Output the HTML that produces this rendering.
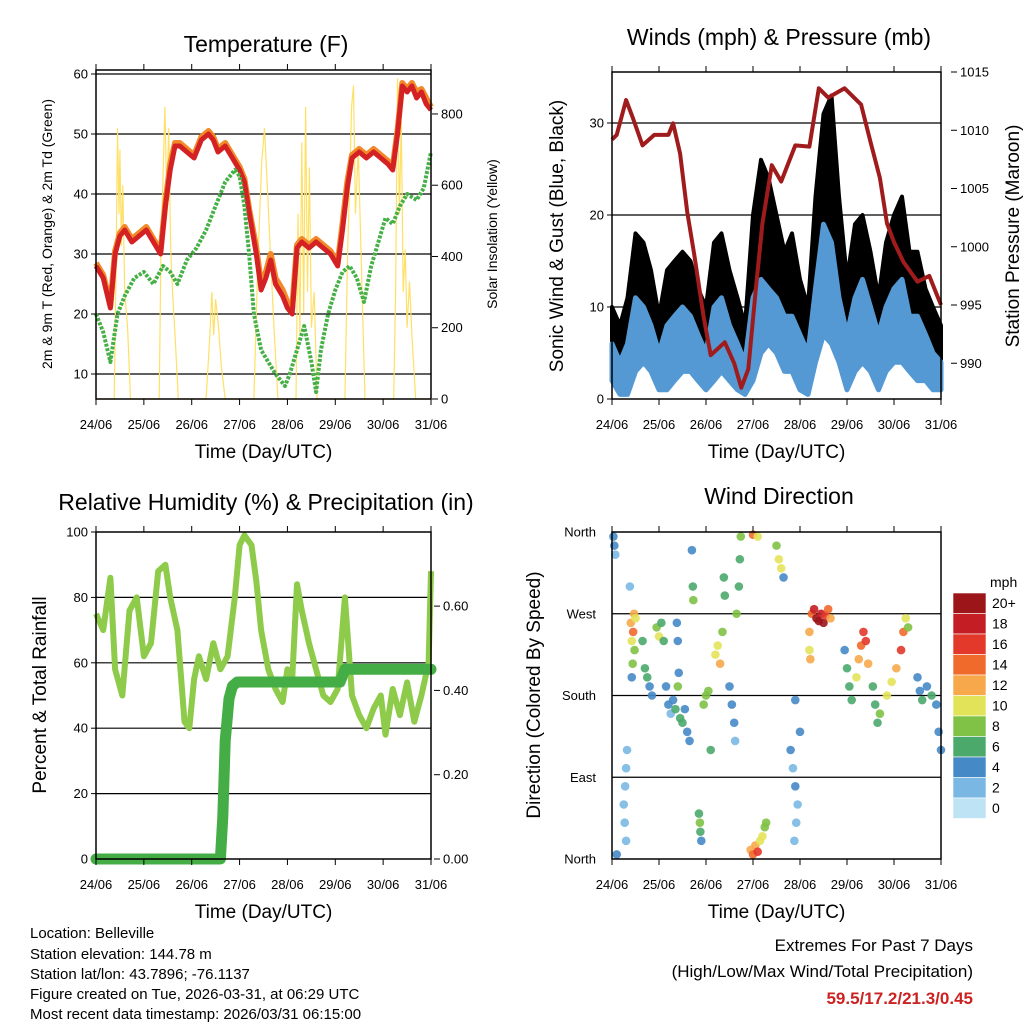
<!DOCTYPE html>
<html><head><meta charset="utf-8"><style>
body{margin:0;background:#fff;}
svg{display:block;font-family:"Liberation Sans",Arial,sans-serif;}
</style></head><body>
<svg id="chart" width="1024" height="1024" viewBox="0 0 1024 1024">
<g font-size="15" fill="#000">
<text x="30" y="938">Location: Belleville</text>
<text x="30" y="959">Station elevation: 144.78 m</text>
<text x="30" y="979">Station lat/lon: 43.7896; -76.1137</text>
<text x="30" y="999">Figure created on Tue, 2026-03-31, at 06:29 UTC</text>
<text x="30" y="1019">Most recent data timestamp: 2026/03/31 06:15:00</text>
</g>
<g text-anchor="end">
<text x="973" y="951" font-size="17">Extremes For Past 7 Days</text>
<text x="973" y="977" font-size="17">(High/Low/Max Wind/Total Precipitation)</text>
<text x="973" y="1004" font-size="17" font-weight="bold" fill="#cc2222">59.5/17.2/21.3/0.45</text>
</g>
</svg>
<script>
const dayLabels=['24/06','25/06','26/06','27/06','28/06','29/06','30/06','31/06'];
// Temperature (F)
const tTime=[0,0.15,0.3,0.4,0.5,0.6,0.75,0.9,1.05,1.2,1.35,1.45,1.55,1.65,1.75,1.9,2.05,2.2,2.35,2.45,2.55,2.7,2.85,3.0,3.1,3.2,3.35,3.45,3.55,3.65,3.75,3.9,4.0,4.1,4.2,4.3,4.45,4.6,4.75,4.9,5.05,5.15,5.25,5.35,5.5,5.65,5.8,5.95,6.1,6.2,6.3,6.4,6.5,6.6,6.7,6.8,6.9,7.0];
const t2m=[28,26,21,30,33,34,32,33,34,32,30,38,44,48,48,47,46,49,50,49,47,48,46,44,42,37,30,24,26,29,25,23,21,20,31,32,31,32,31,30,28,34,41,46,47,46,47,46,45,44,50,58,57,58,56,57,55,54];
const t9m=[28.5,26.5,21.5,30.5,33.5,34.5,32.5,33.5,34.5,32.5,30.5,38.5,45,48.5,48.5,47.5,46.5,49.5,50.5,49.5,47.5,48.5,46.5,44.5,42.5,37.5,31,25,27,30,26,24,22,21,31.5,32.5,31.5,32.5,31.5,30.5,28.5,35,42,46.5,47.5,46.5,47.5,46.5,45.5,44.5,50.5,58.5,57.5,58.5,57,57.5,56,54.5];
const tdTime=[0,0.15,0.3,0.45,0.6,0.8,1.0,1.2,1.4,1.55,1.7,1.9,2.1,2.3,2.5,2.7,2.9,3.0,3.1,3.2,3.3,3.45,3.6,3.75,3.85,3.95,4.05,4.2,4.35,4.5,4.6,4.7,4.85,5.0,5.15,5.3,5.45,5.6,5.75,5.9,6.05,6.2,6.35,6.5,6.7,6.85,7.0];
const td2m=[20,17,12,20,23,26,27,25,28,27,25,29,31,34,38,42,44,43,38,30,20,14,12,10,9,8,10,14,18,12,7,14,20,24,27,28,26,22,28,32,36,35,38,40,39,41,47];
const solTime=[0,0.38,0.42,0.45,0.48,0.5,0.53,0.56,0.6,0.66,0.72,1.32,1.36,1.4,1.44,1.48,1.52,1.56,1.6,1.66,1.72,2.3,2.38,2.42,2.46,2.5,2.55,2.62,2.7,3.3,3.38,3.46,3.52,3.58,3.64,3.72,3.8,4.18,4.22,4.26,4.3,4.34,4.38,4.42,4.46,4.5,4.56,4.62,5.2,5.26,5.3,5.34,5.38,5.42,5.48,5.56,5.62,6.22,6.26,6.3,6.34,6.38,6.42,6.46,6.5,6.55,6.6,6.68,7.0];
const solVal=[0,0,380,760,520,700,430,600,300,200,0,0,450,620,820,560,760,420,300,160,0,0,180,300,180,280,220,90,0,0,380,660,760,600,420,200,0,0,520,180,720,240,820,300,650,200,300,0,0,420,600,820,880,520,700,300,0,0,300,900,520,780,300,420,200,330,180,0,0];
// Winds & pressure
const wTime=[0,0.17,0.33,0.5,0.67,0.83,1.0,1.17,1.33,1.5,1.67,1.83,2.0,2.17,2.33,2.5,2.67,2.83,3.0,3.17,3.33,3.5,3.67,3.83,4.0,4.17,4.33,4.5,4.67,4.83,5.0,5.17,5.33,5.5,5.67,5.83,6.0,6.17,6.33,6.5,6.67,6.83,7.0];
const gustHi=[10,8,11,18,17,14,9,14,15,16,15,12,10,17,18,14,11,8,20,26,24,20,16,18,13,10,22,31,33,22,13,19,20,16,11,17,20,22,16,16,12,10,8];
const gustLo=[4,2,2,5,6,5,2,3,4,6,6,4,2,5,6,4,2,1,4,10,10,8,6,6,3,1,7,12,11,7,3,6,8,6,3,6,7,8,6,5,4,2,2];
const windHi=[6,4,6,11,10,8,5,8,9,10,9,7,5,10,11,8,6,4,11,13,12,11,9,9,7,5,12,19,17,11,7,11,13,10,7,10,12,13,9,9,7,5,4];
const windLo=[2,0.5,0.5,3,4,3,1,1,2,3,3,2,1,2,3,2,1,0.5,2,5,6,5,3,3,1,0.5,4,7,6,4,1,3,4,3,1,3,4,4,3,2,2,1,1];
const pTime=[0,0.1,0.3,0.45,0.65,0.9,1.2,1.3,1.45,1.6,1.75,1.95,2.1,2.4,2.6,2.75,2.9,3.05,3.2,3.4,3.6,3.9,4.2,4.4,4.6,4.95,5.3,5.5,5.7,5.85,6.0,6.2,6.5,6.75,6.9,7.0];
const pres=[1009.2,1009.6,1012.6,1011,1008.7,1009.6,1009.6,1010.6,1008,1003,999.3,994,990.7,991.8,990,987.9,989.5,996,1002,1007,1005.6,1008.7,1008.6,1013.6,1012.8,1013.6,1012.2,1009,1005.9,1002,1000.4,998.7,997,997.5,996,995];
// RH & precip
const rhTime=[0,0.15,0.3,0.4,0.55,0.7,0.85,1.0,1.15,1.3,1.45,1.55,1.7,1.85,1.95,2.05,2.15,2.3,2.45,2.6,2.75,2.9,3.0,3.1,3.25,3.35,3.45,3.6,3.75,3.9,4.0,4.1,4.2,4.3,4.45,4.6,4.75,4.9,5.05,5.2,5.35,5.5,5.65,5.8,5.95,6.05,6.2,6.35,6.5,6.65,6.8,6.95,7.0];
const rhVal=[75,70,86,58,50,76,80,62,66,88,90,80,70,42,40,55,62,55,66,58,62,80,96,99,96,85,70,58,52,48,58,55,84,76,66,58,50,48,52,80,50,44,40,46,50,38,52,44,54,42,50,60,88];
const prTime=[0,2.6,2.65,2.7,2.78,2.85,2.95,3.1,5.1,5.2,7.0];
const prVal=[0,0,0.1,0.28,0.38,0.41,0.42,0.42,0.42,0.45,0.45];
// Wind direction
const dTime=[0.03,0.05,0.07,0.1,0.25,0.27,0.3,0.32,0.3,0.28,0.38,0.4,0.42,0.45,0.44,0.42,0.47,0.5,0.48,0.65,0.7,0.75,0.8,0.85,0.95,1.0,1.05,1.1,1.15,1.2,1.25,1.3,1.35,1.4,1.45,1.5,1.55,1.6,1.65,1.38,1.4,1.42,1.7,1.72,1.73,1.85,1.87,1.88,1.9,1.95,2.0,2.05,2.1,2.2,2.25,2.3,2.35,2.4,2.38,2.5,2.55,2.6,2.62,2.65,2.7,2.72,2.74,2.95,3.0,3.05,3.1,3.15,3.2,3.25,3.28,3.0,3.1,3.5,3.55,3.6,3.65,3.8,3.85,3.9,3.95,3.92,3.88,4.0,3.9,4.2,4.25,4.3,4.35,4.4,4.45,4.5,4.55,4.6,4.65,4.2,4.22,4.95,5.0,5.05,5.1,5.2,5.25,5.3,5.35,5.4,5.45,5.55,5.6,5.65,5.7,5.85,5.95,6.05,6.15,6.2,6.25,6.3,6.5,6.55,6.6,6.7,6.8,6.9,6.95,7.0];
const dDir=[355,345,335,5,60,40,20,120,100,80,300,260,240,250,215,200,270,265,230,240,210,200,190,180,255,245,260,240,190,170,160,175,165,190,155,150,165,140,130,260,240,205,340,300,285,50,40,30,20,170,180,185,120,225,235,215,250,290,310,190,170,150,130,270,300,330,355,10,5,15,8,20,25,35,40,357,355,345,330,320,310,120,100,80,60,40,20,140,175,250,270,275,265,262,270,260,268,275,265,230,220,230,210,190,175,200,220,235,250,240,215,190,170,150,160,180,195,210,230,250,265,255,200,185,175,190,180,170,140,120];
const dSpd=[4,4,3,4,2,2,2,2,2,2,2,12,11,14,8,4,12,10,9,6,6,6,4,4,8,10,7,6,4,4,2,4,6,8,6,7,4,4,4,4,4,4,4,6,8,6,8,7,4,8,8,9,6,10,10,12,8,6,6,4,4,4,2,8,6,6,8,12,14,12,16,10,10,8,8,14,10,8,10,10,4,4,2,4,2,2,2,4,4,12,14,18,20,20,18,20,16,14,12,10,12,4,6,6,6,10,12,14,16,16,12,6,6,6,8,10,10,12,16,14,10,8,4,4,6,4,6,4,4,4];
const cbLabels=['20+','18','16','14','12','10','8','6','4','2','0'];
const cbColors=['#9b1519','#c41e24','#e2392a','#f06a2c','#f7a84a','#e3e35a','#7fc245','#4ba96b','#4589c7','#7ab8e3','#bde3f5'];

const NS='http://www.w3.org/2000/svg';
const svg=document.getElementById('chart');
function mk(tag,attrs,parent){const e=document.createElementNS(NS,tag);for(const k in attrs)e.setAttribute(k,attrs[k]);(parent||svg).appendChild(e);return e;}
function txt(s,attrs,parent){const e=mk('text',attrs,parent);e.textContent=s;return e;}
function lin(x0,x1,v0,v1,p0,p1){return v=>p0+(v-x0)*(p1-p0)/(x1-x0);}
function pathD(xs,ys,fx,fy){return xs.map((t,i)=>(i?'L':'M')+fx(t).toFixed(1)+','+fy(ys[i]).toFixed(1)).join('');}
function bandD(xs,hi,lo,fx,fy){let d=xs.map((t,i)=>(i?'L':'M')+fx(t).toFixed(1)+','+fy(hi[i]).toFixed(1)).join('');for(let i=xs.length-1;i>=0;i--)d+='L'+fx(xs[i]).toFixed(1)+','+fy(lo[i]).toFixed(1);return d+'Z';}
function speedColor(s){let idx=10-Math.min(10,Math.floor(s/2));return cbColors[idx];}

function frame(g,L,R,T,B,xs){
  for(let i=0;i<dayLabels.length;i++){const x=xs(i);
    const tk=mk('line',{x1:x,x2:x,y1:B,y2:B+6,stroke:'#000'},g);
    
    
    const tt=mk('line',{x1:x,x2:x,y1:T,y2:T-6,stroke:'#000'},g);
    
    
    const lb=txt(dayLabels[i],{x:x,y:B+30,'font-size':13,'text-anchor':'middle'},g);
    
    
  }
  const xt=txt('Time (Day/UTC)',{x:(L+R)/2,y:B+59,'font-size':19,'text-anchor':'middle'},g);
  
  
}
function border(g,L,R,T,B){const r=mk('rect',{x:L,y:T,width:R-L,height:B-T,fill:'none',stroke:'#000','stroke-width':1.5},g);
  
  }
function hgrid(g,L,R,y,name){const l=mk('line',{x1:L,x2:R,y1:y,y2:y,stroke:'#000','stroke-width':1.2},g);
  
  }
function ylab(g,s,x,y,anchor,name,noTick){const t=txt(s,{x:x,y:y+4.5,'font-size':13,'text-anchor':anchor},g);
  
  
  if(noTick)return;
  const tk=mk('line',{x1:anchor==='end'?x+3:x-9,x2:anchor==='end'?x+9:x-3,y1:y,y2:y,stroke:'#000'},g);
  
  }
function vtitle(g,s,x,y,size,name){const t=txt(s,{x:x,y:y,'font-size':size,'text-anchor':'middle',transform:`rotate(-90 ${x} ${y})`},g);
  
  }
function title(g,s,x,y,name){const t=txt(s,{x:x,y:y,'font-size':23,'text-anchor':'middle'},g);
  
  }

// ---------- Panel 1: Temperature ----------
{const L=96,R=431,T=70,B=399;
 const g=mk('g',{});
 
 
 const fx=lin(0,7,0,0,L,R), fy=v=>434-6*v, fs=v=>399-v*0.3563;
 title(g,'Temperature (F)',266,52,'temperature-title');
 [60,50,40,30,20,10].forEach(v=>{hgrid(g,L,R,fy(v),'temp-gridline');ylab(g,String(v),L-8,fy(v),'end','temp-y-label');});
 [0,200,400,600,800].forEach(v=>ylab(g,String(v),R+10,fs(v),'start','solar-y-label'));
 vtitle(g,'2m & 9m T (Red, Orange) & 2m Td (Green)',52,234,14,'temp-y-title');
 vtitle(g,'Solar Insolation (Yellow)',497,234,14,'solar-y-title');
 const s=mk('path',{d:pathD(solTime,solVal,fx,fs),fill:'none',stroke:'#ffe066','stroke-width':1.2},g);
 
 
 const o=mk('path',{d:pathD(tTime,t9m,fx,fy),fill:'none',stroke:'#f28a2a','stroke-width':6,'stroke-linejoin':'round'},g);
 
 
 const r=mk('path',{d:pathD(tTime,t2m,fx,fy),fill:'none',stroke:'#d42124','stroke-width':5,'stroke-linejoin':'round'},g);
 
 
 const d=mk('path',{d:pathD(tdTime,td2m,fx,fy),fill:'none',stroke:'#45b045','stroke-width':4,'stroke-dasharray':'3 1.5','stroke-linejoin':'round'},g);
 
 
 border(g,L,R,T,B); frame(g,L,R,T,B,i=>fx(i));
}
// ---------- Panel 2: Winds ----------
{const L=612,R=941,T=72,B=399;
 const g=mk('g',{});
 
 
 const fx=lin(0,7,0,0,L,R), fy=v=>399-9.2*v, fp=p=>72+(1015-p)*11.65;
 title(g,'Winds (mph) & Pressure (mb)',779,45,'winds-title');
 [0,10,20,30].forEach(v=>{if(v)hgrid(g,L,R,fy(v),'wind-gridline');ylab(g,String(v),L-8,fy(v),'end','wind-y-label');});
 [1015,1010,1005,1000,995,990].forEach(v=>ylab(g,String(v),R+19,fp(v),'start','pressure-y-label'));
 vtitle(g,'Sonic Wind & Gust (Blue, Black)',563,236,19,'wind-y-title');
 vtitle(g,'Station Pressure (Maroon)',1019,236,19,'pressure-y-title');
 const gb=mk('path',{d:bandD(wTime,gustHi,gustLo,fx,fy),fill:'#000',stroke:'#000','stroke-width':4,'stroke-linejoin':'round'},g);
 
 
 const wb=mk('path',{d:bandD(wTime,windHi,windLo,fx,fy),fill:'#5499d3',stroke:'#5499d3','stroke-width':5,'stroke-linejoin':'round'},g);
 
 
 const pl=mk('path',{d:pathD(pTime,pres,fx,fp),fill:'none',stroke:'#a01c1c','stroke-width':4,'stroke-linejoin':'round'},g);
 
 
 border(g,L,R,T,B); frame(g,L,R,T,B,i=>fx(i));
}
// ---------- Panel 3: RH ----------
{const L=96,R=431,T=532,B=859;
 const g=mk('g',{});
 
 
 const fx=lin(0,7,0,0,L,R), fy=v=>859-3.27*v, fr=v=>859-v*421.5;
 title(g,'Relative Humidity (%) & Precipitation (in)',266,510,'humidity-title');
 [0,20,40,60,80,100].forEach(v=>{if(v>0&&v<100)hgrid(g,L,R,fy(v),'rh-gridline');ylab(g,String(v),L-8,fy(v),'end','rh-y-label');});
 ['0.00','0.20','0.40','0.60'].forEach(v=>ylab(g,v,R+12,fr(+v),'start','precip-y-label'));
 vtitle(g,'Percent & Total Rainfall',46,695,19,'rh-y-title');
 const rl=mk('path',{d:pathD(rhTime,rhVal,fx,fy),fill:'none',stroke:'#8ecb4a','stroke-width':6,'stroke-linejoin':'round'},g);
 
 
 const pl=mk('path',{d:pathD(prTime,prVal,fx,fr),fill:'none',stroke:'#45ad45','stroke-width':11,'stroke-linejoin':'round','stroke-linecap':'round'},g);
 
 
 border(g,L,R,T,B); frame(g,L,R,T,B,i=>fx(i));
}
// ---------- Panel 4: Wind direction ----------
{const L=612,R=941,T=532,B=859;
 const g=mk('g',{});
 
 
 const fx=lin(0,7,0,0,L,R), fy=v=>859-v*(327/360);
 title(g,'Wind Direction',779,504,'direction-title');
 [['North',0],['East',90],['South',180],['West',270],['North',360]].forEach(([s,v])=>{if(v>0&&v<360)hgrid(g,L,R,fy(v),'dir-gridline');ylab(g,s,L-16,fy(v),'end','dir-y-label',true);});
 vtitle(g,'Direction (Colored By Speed)',540,695,19,'dir-y-title');
 for(let i=0;i<dTime.length;i++){
  const c=mk('circle',{cx:fx(dTime[i]),cy:fy(dDir[i]),r:4.3,fill:speedColor(dSpd[i]),'fill-opacity':0.9},g);
  
  
 }
 border(g,L,R,T,B); frame(g,L,R,T,B,i=>fx(i));
 const cb=mk('g',{});
 
 
 const ct=txt('mph',{x:990,y:587,'font-size':14},cb);
 
 
 for(let i=0;i<cbLabels.length;i++){
  const y=593+i*20.5;
  const rr=mk('rect',{x:953,y:y,width:33,height:20.5,fill:cbColors[i],stroke:'#fff','stroke-width':0.6},cb);
  
  
  const tl=txt(cbLabels[i],{x:992,y:y+15,'font-size':14},cb);
  
  
 }
}
</script>
</body></html>
